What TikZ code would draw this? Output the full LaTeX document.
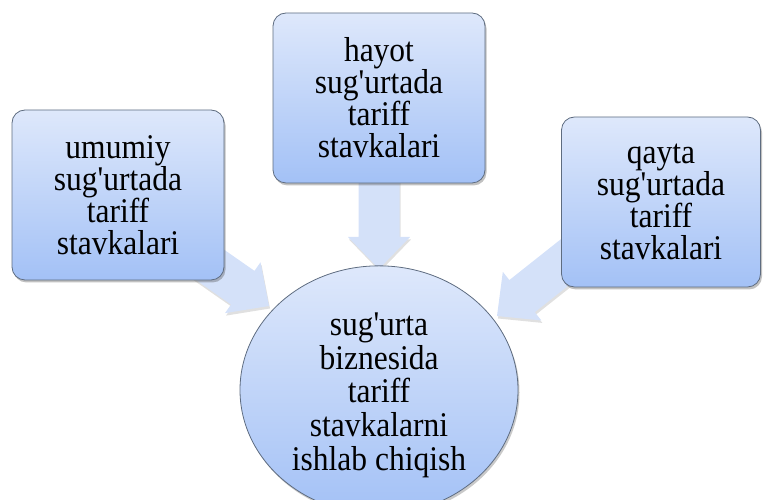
\documentclass[tikz,border=0pt]{standalone}
\usepackage{fontspec}
\usepackage{graphicx}
\setmainfont{Liberation Serif}
\usetikzlibrary{shapes.geometric,shadows}
\definecolor{boxtop}{HTML}{DEE8FB}
\definecolor{boxbot}{HTML}{A3C1F6}
\definecolor{boxline}{HTML}{5E6C80}
\definecolor{arrowfill}{HTML}{D4E1F9}
\newcommand\yst[1]{\scalebox{1}[1.1]{#1}}
\newcommand\ap{\textquotesingle}
\newcommand\tightls{\lineskiplimit=-100pt\relax\lineskip=0pt\relax}
\tikzset{
  x=1pt, y=1pt,
  txt/.style={font=\fontsize{31.5}{32}\selectfont\tightls,
    align=center, text=black},
  card/.style={txt, draw=boxline, line width=0.8pt, rounded corners=13pt,
    top color=boxtop, bottom color=boxbot, minimum width=212pt, minimum height=170pt,
    inner sep=0pt,
    drop shadow={shadow xshift=1.5pt, shadow yshift=-2.5pt, opacity=0.35, fill=black!70}},
  goal/.style={txt, ellipse, draw=boxline, line width=0.8pt,
    top color=boxtop, bottom color=boxbot, minimum width=278pt, minimum height=218pt,
    inner sep=0pt, font=\fontsize{31.5}{33.8}\selectfont\tightls,
    drop shadow={shadow xshift=1.5pt, shadow yshift=-2.5pt, opacity=0.3, fill=black!70}},
  blockarrow/.style={fill=arrowfill,
    drop shadow={shadow xshift=1pt, shadow yshift=-2.5pt, opacity=0.12, fill=black}}
}
% #1 tip coordinate, #2 direction angle, #3 total length
\newcommand\bigarrow[3]{%
  \begin{scope}[shift={(#1)}, rotate=#2]
    \path[blockarrow] (0,0) -- (-32,31) -- (-32,20.5) -- (-#3,20.5) -- (-#3,-20.5)
      -- (-32,-20.5) -- (-32,-31) -- cycle;
  \end{scope}}
\begin{document}
\begin{tikzpicture}
\useasboundingbox (0,0) rectangle (763,500);
% connectors (block arrows), drawn first so boxes cover their tails
\coordinate (tipL) at (269,194);
\coordinate (tipT) at (379,231);
\coordinate (tipR) at (497,184);
\bigarrow{tipL}{-34.9}{95}
\bigarrow{tipT}{-90}{95}
\bigarrow{tipR}{218.4}{100}
% nodes
\node[card] (left) at (118,305) {\yst{umumiy}\\ \yst{sug\ap urtada}\\ \yst{tariff}\\ \yst{stavkalari}};
\node[card] (top) at (379,402) {\yst{hayot}\\ \yst{sug\ap urtada}\\ \yst{tariff}\\ \yst{stavkalari}};
\node[card, minimum width=199pt] (right) at (661,298) {\yst{qayta}\\ \yst{sug\ap urtada}\\ \yst{tariff}\\ \yst{stavkalari}};
\node[goal] (goal) at (379,110) {\rule{0pt}{33pt}\yst{sug\ap urta}\\ \yst{biznesida}\\ \yst{tariff}\\ \yst{stavkalarni}\\ \yst{ishlab\ chiqish}};
\end{tikzpicture}
\end{document}
